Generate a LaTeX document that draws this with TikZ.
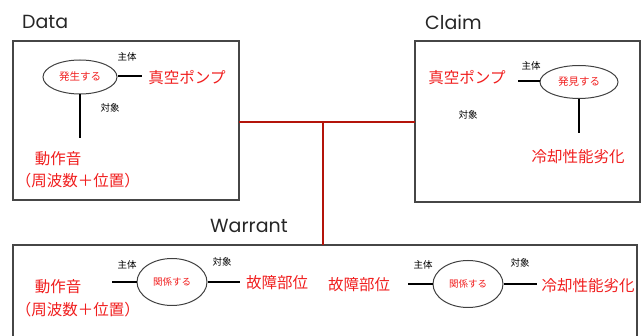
\documentclass[tikz,border=0pt]{standalone}
\usetikzlibrary{shapes.geometric}
\usepackage{fontspec}
\setmainfont{Poppins}
\newfontfamily\jp{Noto Sans CJK JP}
\definecolor{jred}{RGB}{240,30,30}
\definecolor{lred}{RGB}{180,20,10}
\definecolor{boxgray}{RGB}{70,70,70}
\begin{document}
\begin{tikzpicture}[x=1pt,y=-1pt,
  frame/.style={draw=boxgray,line width=1.4pt},
  title/.style={font=\fontsize{19}{19}\selectfont,text=black!85,inner sep=0},
  big/.style={font=\jp\fontsize{15.5}{19}\selectfont,text=jred,inner sep=0,align=center},
  small/.style={font=\jp\fontsize{9.5}{10}\selectfont,inner sep=0},
  oval/.style={draw=black!75,line width=1pt,ellipse,inner sep=0,font=\jp\fontsize{10.5}{11}\selectfont,text=jred},
  link/.style={line width=1.8pt,black},
  redline/.style={line width=2pt,lred}]
\useasboundingbox (0,0) rectangle (643,336);
% boxes
\draw[frame] (13,41) rectangle (239,200);
\draw[frame] (415,41) rectangle (640,202);
\draw[frame] (13,340) -- (13,245) -- (637,245) -- (637,340);
\coordinate (dR) at (239,122);
\coordinate (cL) at (415,122);
\coordinate (jn) at (323,122);
\coordinate (wT) at (323,245);
\draw[redline] (dR) -- (cL);
\draw[redline] (jn) -- (wT);
% titles
\node[title,anchor=west] (tD) at (22,22) {Data};
\node[title,anchor=west] (tC) at (425,22) {Claim};
\node[title,anchor=west] (tW) at (210,226) {Warrant};
% Data
\node[oval,minimum width=74pt,minimum height=34pt] (e1) at (80,77) {発生する};
\node[big] (d1) at (187,78) {真空ポンプ};
\node[small] (s1) at (127,57) {主体};
\node[small] (o1) at (110,108) {対象};
\node[big] (d2) at (58,159) {動作音};
\node[big] (d3) at (78,181) {（周波数＋位置）};
\coordinate (d1l) at (142,76);
\coordinate (v1) at (80,138);
\draw[link] (e1.east |- d1l) -- (d1l);
\draw[line width=1.6pt] (e1.south) -- (v1);
% Claim
\node[big] (c1) at (467,78) {真空ポンプ};
\node[small] (s2) at (531,66) {主体};
\node[oval,minimum width=78pt,minimum height=33pt] (e2) at (579,82) {発見する};
\coordinate (c1r) at (518,81);
\draw[link] (c1r) -- (e2.west |- c1r);
\coordinate (v2) at (579,133);
\draw[line width=1.6pt] (e2.south) -- (v2);
\node[small] (o2) at (468,115) {対象};
\node[big] (c2) at (578,157) {冷却性能劣化};
% Warrant left
\node[big] (w1) at (58,287) {動作音};
\node[big] (w2) at (78,310) {（周波数＋位置）};
\node[small] (s3) at (127,265) {主体};
\node[oval,minimum width=70pt,minimum height=47pt,font=\jp\fontsize{9.5}{10}\selectfont] (e3) at (172,282) {関係する};
\node[small] (o3) at (222,262) {対象};
\node[big] (w3) at (277,283) {故障部位};
\coordinate (a3) at (112,282);
\coordinate (b3) at (240,282);
\draw[link] (a3) -- (e3.west);
\draw[link] (e3.east) -- (b3);
% Warrant right
\node[big] (w4) at (359,285) {故障部位};
\node[small] (s4) at (423,265) {主体};
\node[oval,minimum width=70pt,minimum height=47pt,font=\jp\fontsize{9.5}{10}\selectfont] (e4) at (468,284) {関係する};
\node[small] (o4) at (520,263) {対象};
\node[big] (w5) at (588,286) {冷却性能劣化};
\coordinate (a4) at (408,284);
\coordinate (b4) at (537,284);
\draw[link] (a4) -- (e4.west);
\draw[link] (e4.east) -- (b4);
\end{tikzpicture}
\end{document}
